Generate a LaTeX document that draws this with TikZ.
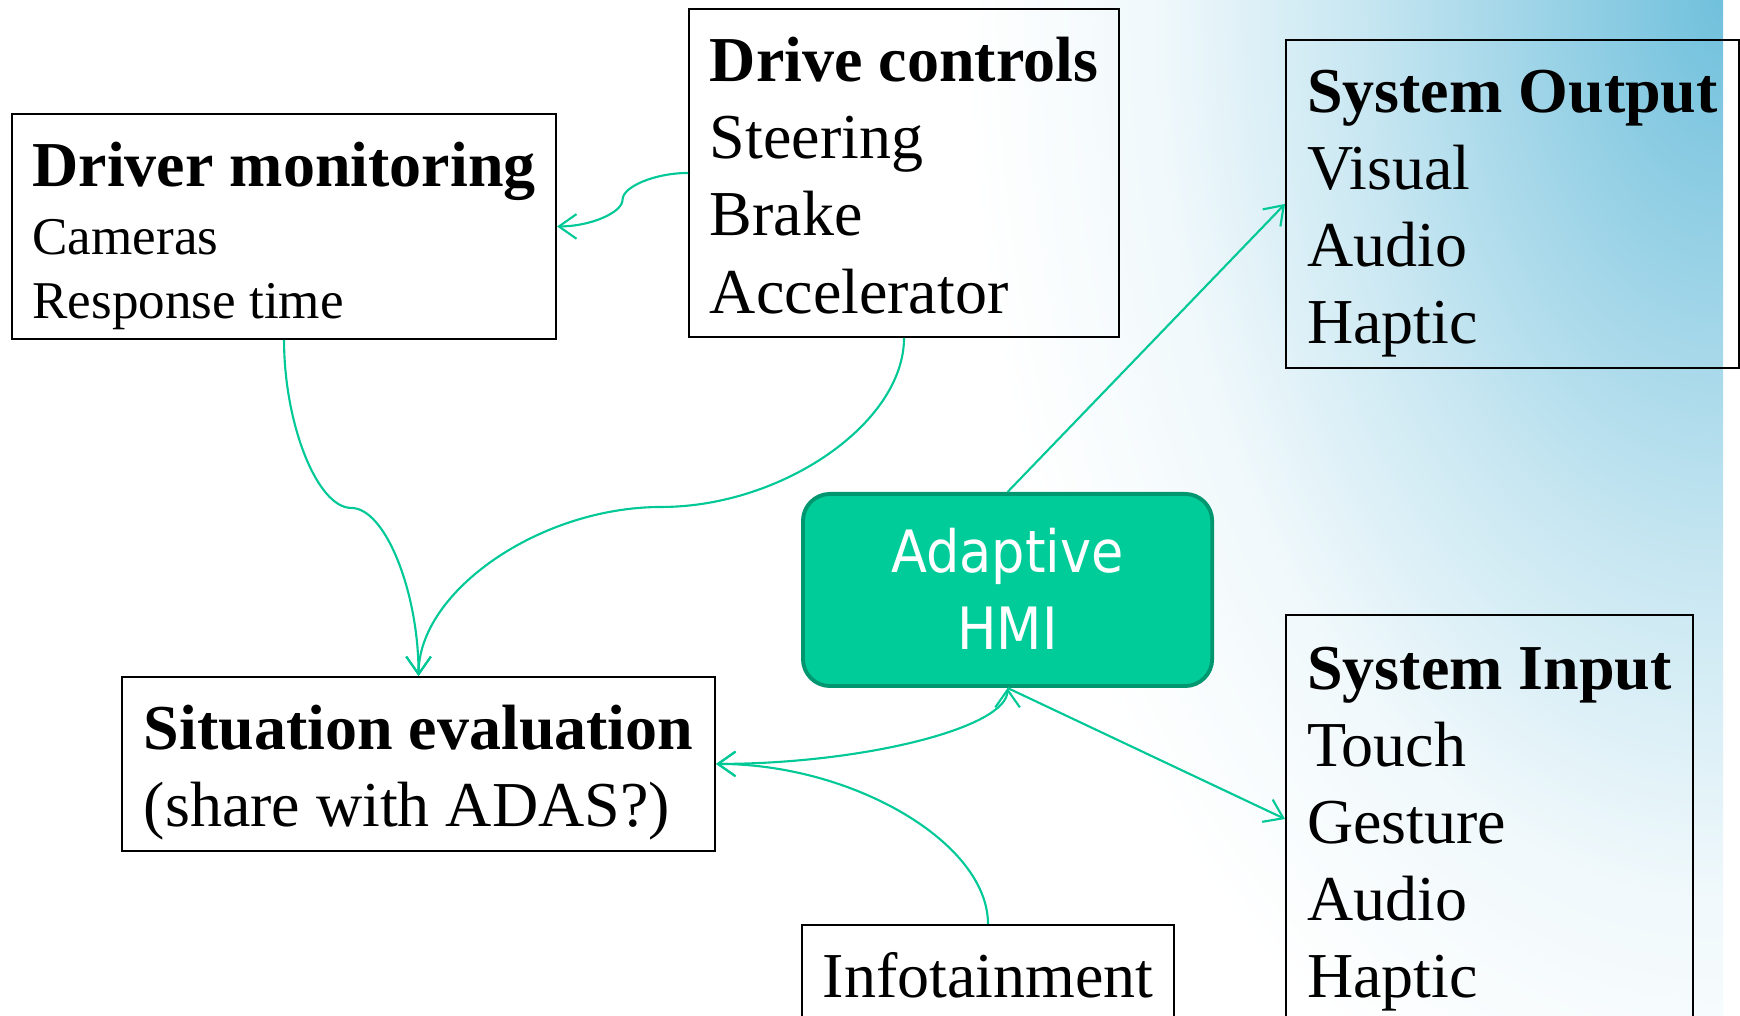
\documentclass[tikz,border=0pt]{standalone}
\usepackage{fontspec}
\setmainfont{Liberation Serif}
\newfontfamily\hmisans{DejaVu Sans Condensed}
\usepackage{tikz}
\usetikzlibrary{arrows.meta, calc}

\definecolor{hmifill}{RGB}{0,204,153}
\definecolor{hmiedge}{RGB}{0,150,112}
\definecolor{linkgreen}{RGB}{0,200,150}
\definecolor{bgblue}{RGB}{112,192,220}

\pgfdeclareradialshading{cornerglow}{\pgfpoint{0bp}{0bp}}{color(0bp)=(bgblue); color(6.25bp)=(bgblue!68!white); color(12.5bp)=(bgblue!36!white); color(18.75bp)=(bgblue!10!white); color(25bp)=(white); color(50bp)=(white)}

\newcommand\boxfont{\fontsize{18.2pt}{21.9pt}\selectfont}
\newcommand\itemfont{\fontsize{15.1pt}{18.2pt}\selectfont}
\newcommand\hmifont{\hmisans\fontsize{16.6pt}{21.9pt}\selectfont}
\newcommand\topstrut{\vrule height 0.73cm depth 0pt width 0pt}
\newcommand\headline[1]{\topstrut\textbf{#1}}

\tikzset{
    barb/.tip = {Straight Barb[length=5pt, width=7pt]},
    infobox/.style = {rectangle, anchor=north west, draw=black, line width=0.5pt, align=left, inner xsep=0.1cm, inner ysep=0pt, font=\boxfont, text depth=0.24cm},
    hmibox/.style = {rectangle, anchor=north west, rounded corners=0.27cm, draw=hmiedge, line width=1.1pt, fill=hmifill, text=white, align=center, inner sep=0pt, font=\hmifont, text depth=0.03cm},
    link/.style = {draw=linkgreen, line width=0.6pt, -barb}
}

\begin{document}
\begin{tikzpicture}[x=0.01cm, y=-0.01cm]

\useasboundingbox (0,0) rectangle (1740,1016);
\clip (0,0) rectangle (1740,1016);

% background glow in the top right corner
\fill [white] (0,0) rectangle (1740,1016);
\begin{scope}
\clip (0,0) rectangle (1723,1016);
\shade [shading=cornerglow] (1723,0) ellipse [x radius=7.6cm, y radius=12cm];
\end{scope}

\node (dm) [infobox, minimum width=5.44cm, minimum height=2.25cm, font=\itemfont, text depth=0.2cm] at (11,113) {{\boxfont\headline{Driver monitoring}}\\[0.04cm] Cameras\\ Response time};
\node (dc) [infobox, minimum width=4.30cm, minimum height=3.28cm] at (688,8) {\headline{Drive controls}\\ Steering\\ Brake\\ Accelerator};
\node (so) [infobox, minimum width=4.53cm, minimum height=3.27cm] at (1285,39) {\headline{System Output}\\ Visual\\ Audio\\ Haptic};
\node (hmi) [hmibox, minimum width=4.09cm, minimum height=1.92cm] at (801,492) {Adaptive\\ HMI};
\node (si) [infobox, minimum width=4.07cm, minimum height=4.08cm] at (1285,614) {\headline{System Input}\\ Touch\\ Gesture\\ Audio\\ Haptic};
\node (se) [infobox, minimum width=5.93cm, minimum height=1.74cm] at (121,676) {\headline{Situation evaluation}\\ (share with ADAS?)};
\node (info) [infobox, minimum width=3.72cm, minimum height=0.97cm] at (801,924) {\topstrut Infotainment};

\coordinate (bend1) at ($(dc.west)!0.5!(dm.east)$);
\coordinate (bend2) at ($(dm.south)!0.5!(se.north)$);
\coordinate (bend3) at ($(dc.south)!0.5!(se.north)$);

\draw [link] (dc.west) .. controls +(-33,0) and +(0,-13) .. (bend1) .. controls +(0,13) and +(33,0) .. (dm.east);
\draw [link] (dm.south) .. controls +(0,84) and +(-34,0) .. (bend2) .. controls +(34,0) and +(0,-84) .. (se.north);
\draw [link] (dc.south) .. controls +(0,85) and +(121,0) .. (bend3) .. controls +(-121,0) and +(0,-85) .. (se.north);
\draw [link] (hmi.north) -- (so.west);
\draw [link] (hmi.south) -- (si.west);
\draw [link, barb-barb] (se.east) .. controls +(146,0) and +(0,40) .. (hmi.south);
\draw [link] (info.north) .. controls +(0,-81) and +(137,0) .. (se.east);
\end{tikzpicture}
\end{document}
